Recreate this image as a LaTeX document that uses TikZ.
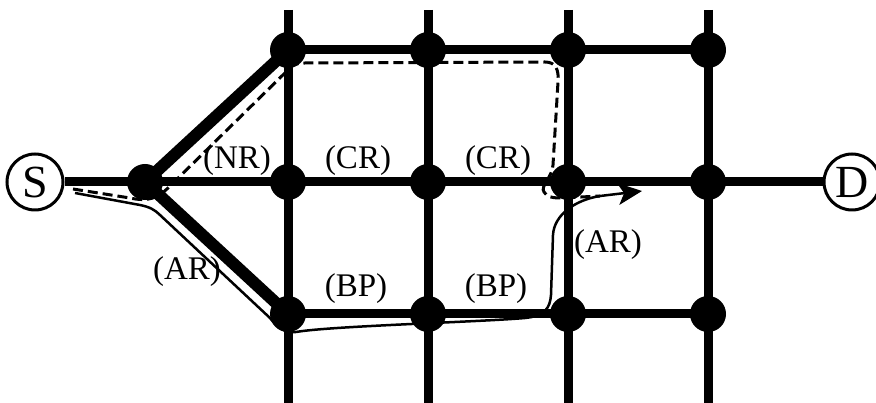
\documentclass[tikz,border=0pt]{standalone}
\usepackage{fontspec}
\setmainfont{Liberation Serif}
\usetikzlibrary{arrows.meta}
\begin{document}
\begin{tikzpicture}[x=1pt,y=-1pt,
  dot/.style={circle,fill=black,inner sep=0pt,minimum size=36pt},
  endpt/.style={circle,draw=black,line width=3pt,fill=white,inner sep=0pt,minimum size=56pt,font=\fontsize{46}{46}\selectfont},
  gridline/.style={line width=9pt},
  diag/.style={line width=12pt},
  lbl/.style={font=\fontsize{33}{33}\selectfont,inner sep=0pt},
  dashpath/.style={line width=3pt,dash pattern=on 10pt off 5pt},
  solidpath/.style={line width=2.5pt}]
\useasboundingbox (0,0) rectangle (876,403);
% grid positions
\coordinate (A1) at (288,50);  \coordinate (B1) at (428,50);  \coordinate (C1) at (568,50);  \coordinate (E1) at (708,50);
\coordinate (A2) at (288,182); \coordinate (B2) at (428,182); \coordinate (C2) at (568,182); \coordinate (E2) at (708,182);
\coordinate (A3) at (288,314); \coordinate (B3) at (428,314); \coordinate (C3) at (568,314); \coordinate (E3) at (708,314);
\coordinate (L) at (145,182);
\path (288,10) coordinate (A0) (428,10) coordinate (B0) (568,10) coordinate (C0) (708,10) coordinate (E0);
\path (288,403) coordinate (A4) (428,403) coordinate (B4) (568,403) coordinate (C4) (708,403) coordinate (E4);
\node[endpt] (S) at (35,182) {S};
\node[endpt] (D) at (852,182) {D};
% vertical lines
\foreach \c in {A,B,C,E}{\draw[gridline] (\c0) -- (\c4);}
% horizontal lines
\draw[gridline] (A1) -- (E1);
\draw[gridline] (A3) -- (E3);
\draw[gridline] (S) -- (D);
% diagonals
\draw[diag] (L) -- (A1);
\draw[diag] (L) -- (A3);
% dashed path
\draw[dashpath] (73,189) -- (130,198) .. controls (148,202) and (158,198) .. (168,188)
  -- (290,68) .. controls (294,64) and (298,63) .. (305,63)
  -- (545,62) .. controls (556,62) and (559,70) .. (558,82)
  -- (553,165) .. controls (552,178) and (540,186) .. (544,192)
  .. controls (547,197) and (552,198) .. (562,198) -- (600,196);
% solid path with arrow
\draw[solidpath,-{Stealth[length=24pt,width=22pt,inset=6pt]}] (75,193) -- (140,205) .. controls (150,207) and (155,210) .. (160,215)
  -- (270,318) .. controls (278,328) and (284,333) .. (296,332)
  .. controls (330,326) and (480,322) .. (525,318)
  .. controls (545,316) and (550,308) .. (551,295)
  -- (553,235) .. controls (554,215) and (575,200) .. (600,196) -- (642,191);
% dots
\foreach \n in {A1,B1,C1,E1,A2,B2,C2,E2,A3,B3,C3,E3,L}{\node[dot] (d\n) at (\n) {};}
% labels
\node[lbl] (nr) at (237,161) {(NR)};
\node[lbl] (cr1) at (358,161) {(CR)};
\node[lbl] (cr2) at (498,161) {(CR)};
\node[lbl] (ar1) at (608,245) {(AR)};
\node[lbl] (ar2) at (187,272) {(AR)};
\node[lbl] (bp1) at (356,289) {(BP)};
\node[lbl] (bp2) at (496,289) {(BP)};
\end{tikzpicture}
\end{document}
